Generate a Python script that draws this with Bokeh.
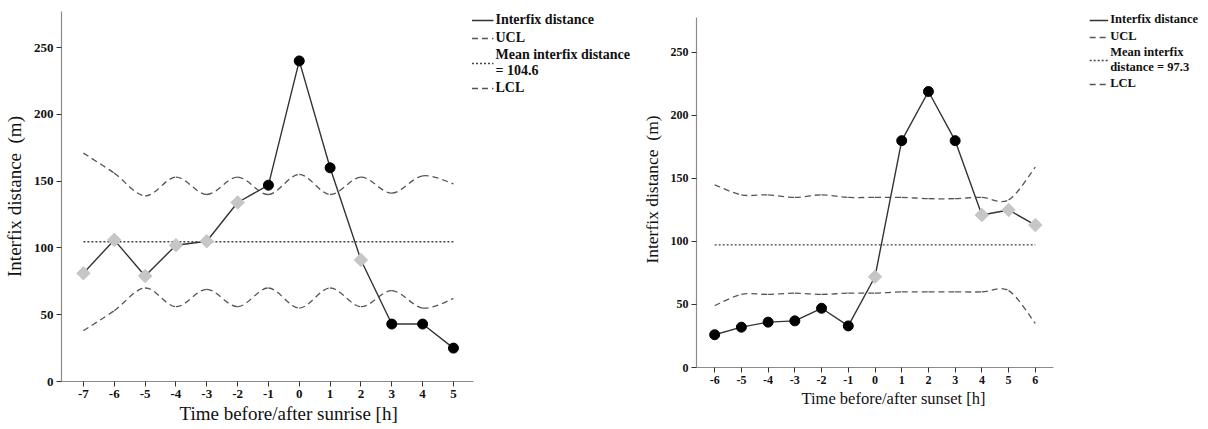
import math
from bokeh.plotting import figure
from bokeh.layouts import row
from bokeh.models import (ColumnDataSource, FixedTicker, Legend, LegendItem,
                          Range1d, Title)
from bokeh.embed import file_html
from bokeh.resources import INLINE

# ---------------- data ----------------
sunrise_hours = [-7, -6, -5, -4, -3, -2, -1, 0, 1, 2, 3, 4, 5]
sunrise_dist = [81, 106, 79, 102, 105, 134, 147, 240, 160, 91, 43, 43, 25]
sunrise_state = ["in", "in", "in", "in", "in", "in", "out", "out", "out", "in", "out", "out", "out"]
sunrise_ucl = [171, 156, 139, 153, 140, 153, 140, 155, 140, 153, 141, 154, 148]
sunrise_lcl = [38, 53, 70, 56, 69, 56, 70, 55, 70, 56, 68, 55, 62]
sunrise_mean = 104.6

sunset_hours = [-6, -5, -4, -3, -2, -1, 0, 1, 2, 3, 4, 5, 6]
sunset_dist = [26, 32, 36, 37, 47, 33, 72, 180, 219, 180, 121, 125, 113]
sunset_state = ["out", "out", "out", "out", "out", "out", "in", "out", "out", "out", "in", "in", "in"]
sunset_ucl = [145, 137, 137, 135, 137, 135, 135, 135, 134, 134, 135, 133, 159]
sunset_lcl = [49, 58, 58, 59, 58, 59, 59, 60, 60, 60, 60, 61, 35]
sunset_mean = 97.3

y_ticks = [0, 50, 100, 150, 200, 250]
FONT = "Liberation Serif"


def bezier_source(xs, ys):
    """Catmull-Rom style control points so the limit curves are drawn smooth."""
    n = len(xs)
    d = dict(x0=[], y0=[], x1=[], y1=[], cx0=[], cy0=[], cx1=[], cy1=[])
    for i in range(n - 1):
        a = max(i - 1, 0)
        b = min(i + 2, n - 1)
        d["x0"].append(xs[i]); d["y0"].append(ys[i])
        d["x1"].append(xs[i + 1]); d["y1"].append(ys[i + 1])
        d["cx0"].append(xs[i] + (xs[i + 1] - xs[a]) / 6.0)
        d["cy0"].append(ys[i] + (ys[i + 1] - ys[a]) / 6.0)
        d["cx1"].append(xs[i + 1] - (xs[b] - xs[i]) / 6.0)
        d["cy1"].append(ys[i + 1] - (ys[b] - ys[i]) / 6.0)
    return ColumnDataSource(d)


def make_chart(hours, dist, state, ucl, lcl, mean, mean_label, xtitle,
               axis_px, frame_w, frame_h, borders, xb, yr, ybounds, tick_size,
               ytitle_size, xtitle_size, xtitle_offset,
               legend_size, label_h, glyph_w, legend_pad):
    bl, br, bt, bb = borders
    # x range: the axis itself covers xb over axis_px pixels; the frame is wider
    # so that the legend can sit to the right of the axis inside the frame.
    units_per_px = (xb[1] - xb[0]) / axis_px
    xr = (xb[0], xb[0] + frame_w * units_per_px)
    p = figure(frame_width=frame_w, frame_height=frame_h, output_backend="svg",
               toolbar_location=None, x_range=Range1d(*xr), y_range=Range1d(*yr),
               min_border_left=bl, min_border_right=br,
               min_border_top=bt, min_border_bottom=bb)
    p.outline_line_color = None
    p.xgrid.visible = False
    p.ygrid.visible = False
    p.background_fill_color = "white"
    p.border_fill_color = "white"

    for ax in (p.xaxis[0], p.yaxis[0]):
        ax.axis_line_color = "#8c8c8c"
        ax.axis_line_width = 1.2
        ax.major_tick_line_color = "#333333"
        ax.major_tick_in = 0
        ax.major_tick_out = 5
        ax.minor_tick_line_color = None
        ax.major_label_text_font = FONT
        ax.major_label_text_font_style = "bold"
        ax.major_label_text_font_size = tick_size
        ax.major_label_text_color = "#111111"
        ax.major_label_standoff = 3
    p.xaxis.bounds = xb
    p.yaxis.bounds = ybounds

    p.xaxis.ticker = FixedTicker(ticks=hours)
    p.xaxis.major_label_overrides = {h: str(h) for h in hours}
    p.yaxis.ticker = FixedTicker(ticks=y_ticks)
    p.yaxis.major_label_overrides = {t: str(t) for t in y_ticks}

    p.yaxis.axis_label = "Interfix distance \u00a0(m)"
    p.yaxis.axis_label_text_font = FONT
    p.yaxis.axis_label_text_font_style = "normal"
    p.yaxis.axis_label_text_font_size = ytitle_size
    p.yaxis.axis_label_text_color = "#111111"
    p.yaxis.axis_label_standoff = 6

    # x-axis title, centred under the axis (not under the wider frame)
    p.add_layout(Title(text=xtitle, align="left", offset=xtitle_offset,
                       standoff=1, text_font=FONT, text_font_style="normal",
                       text_font_size=xtitle_size, text_color="#111111"), "below")

    # control limits (smooth dashed curves)
    dash_color = "#555555"
    r_ucl = p.bezier(x0="x0", y0="y0", x1="x1", y1="y1", cx0="cx0", cy0="cy0",
                     cx1="cx1", cy1="cy1", source=bezier_source(hours, ucl),
                     line_color=dash_color, line_width=1.3, line_dash="6 4")
    r_lcl = p.bezier(x0="x0", y0="y0", x1="x1", y1="y1", cx0="cx0", cy0="cy0",
                     cx1="cx1", cy1="cy1", source=bezier_source(hours, lcl),
                     line_color=dash_color, line_width=1.3, line_dash="6 4")

    # mean line
    r_mean = p.line(x=[hours[0], hours[-1]], y=[mean, mean], line_color="#444444",
                    line_width=1.4, line_dash="2 2")

    # interfix distance
    src = ColumnDataSource(dict(x=hours, y=dist, s=state))
    r_line = p.line("x", "y", source=src, line_color="#333333", line_width=1.4)
    xi = [h for h, s in zip(hours, state) if s == "in"]
    yi = [v for v, s in zip(dist, state) if s == "in"]
    xo = [h for h, s in zip(hours, state) if s == "out"]
    yo = [v for v, s in zip(dist, state) if s == "out"]
    p.scatter(xi, yi, marker="square", angle=math.pi / 4, size=9.5,
              fill_color="#c6c6c6", line_color="#c6c6c6")
    p.scatter(xo, yo, marker="circle", size=10, fill_color="black",
              line_color="black")

    legend = Legend(items=[
        LegendItem(label="Interfix distance", renderers=[r_line]),
        LegendItem(label="UCL", renderers=[r_ucl]),
        LegendItem(label=mean_label, renderers=[r_mean]),
        LegendItem(label="LCL", renderers=[r_lcl]),
    ], location="top_right")
    legend.border_line_color = None
    legend.background_fill_alpha = 0
    legend.label_text_font = FONT
    legend.label_text_font_style = "bold"
    legend.label_text_font_size = legend_size
    legend.label_text_color = "#111111"
    legend.glyph_width = glyph_w
    legend.glyph_height = 14
    legend.label_standoff = 2
    legend.label_height = label_h
    legend.spacing = 0
    legend.padding = legend_pad
    legend.margin = 0
    p.add_layout(legend)
    return p


left = make_chart(sunrise_hours, sunrise_dist, sunrise_state, sunrise_ucl,
                  sunrise_lcl, sunrise_mean, "Mean interfix distance\n= 104.6",
                  "Time before/after sunrise [h]", 412, 569, 370, (55, 8, 11, 45),
                  (-7.71, 5.65), (0, 277), (0, 277), "13px", "19px", "19px", 118,
                  "14px", 18, 22, 0)
right = make_chart(sunset_hours, sunset_dist, sunset_state, sunset_ucl,
                   sunset_lcl, sunset_mean, "Mean interfix\ndistance = 97.3",
                   "Time before/after sunset [h]", 357, 502, 356, (58, 0, 11, 55),
                   (-6.68, 6.68), (0, 282.5), (0, 278), "12px", "17.5px", "16.5px",
                   105, "12.5px", 17, 19, 5)

layout = row(left, right)
open("out.html", "w").write(file_html(layout, INLINE))
